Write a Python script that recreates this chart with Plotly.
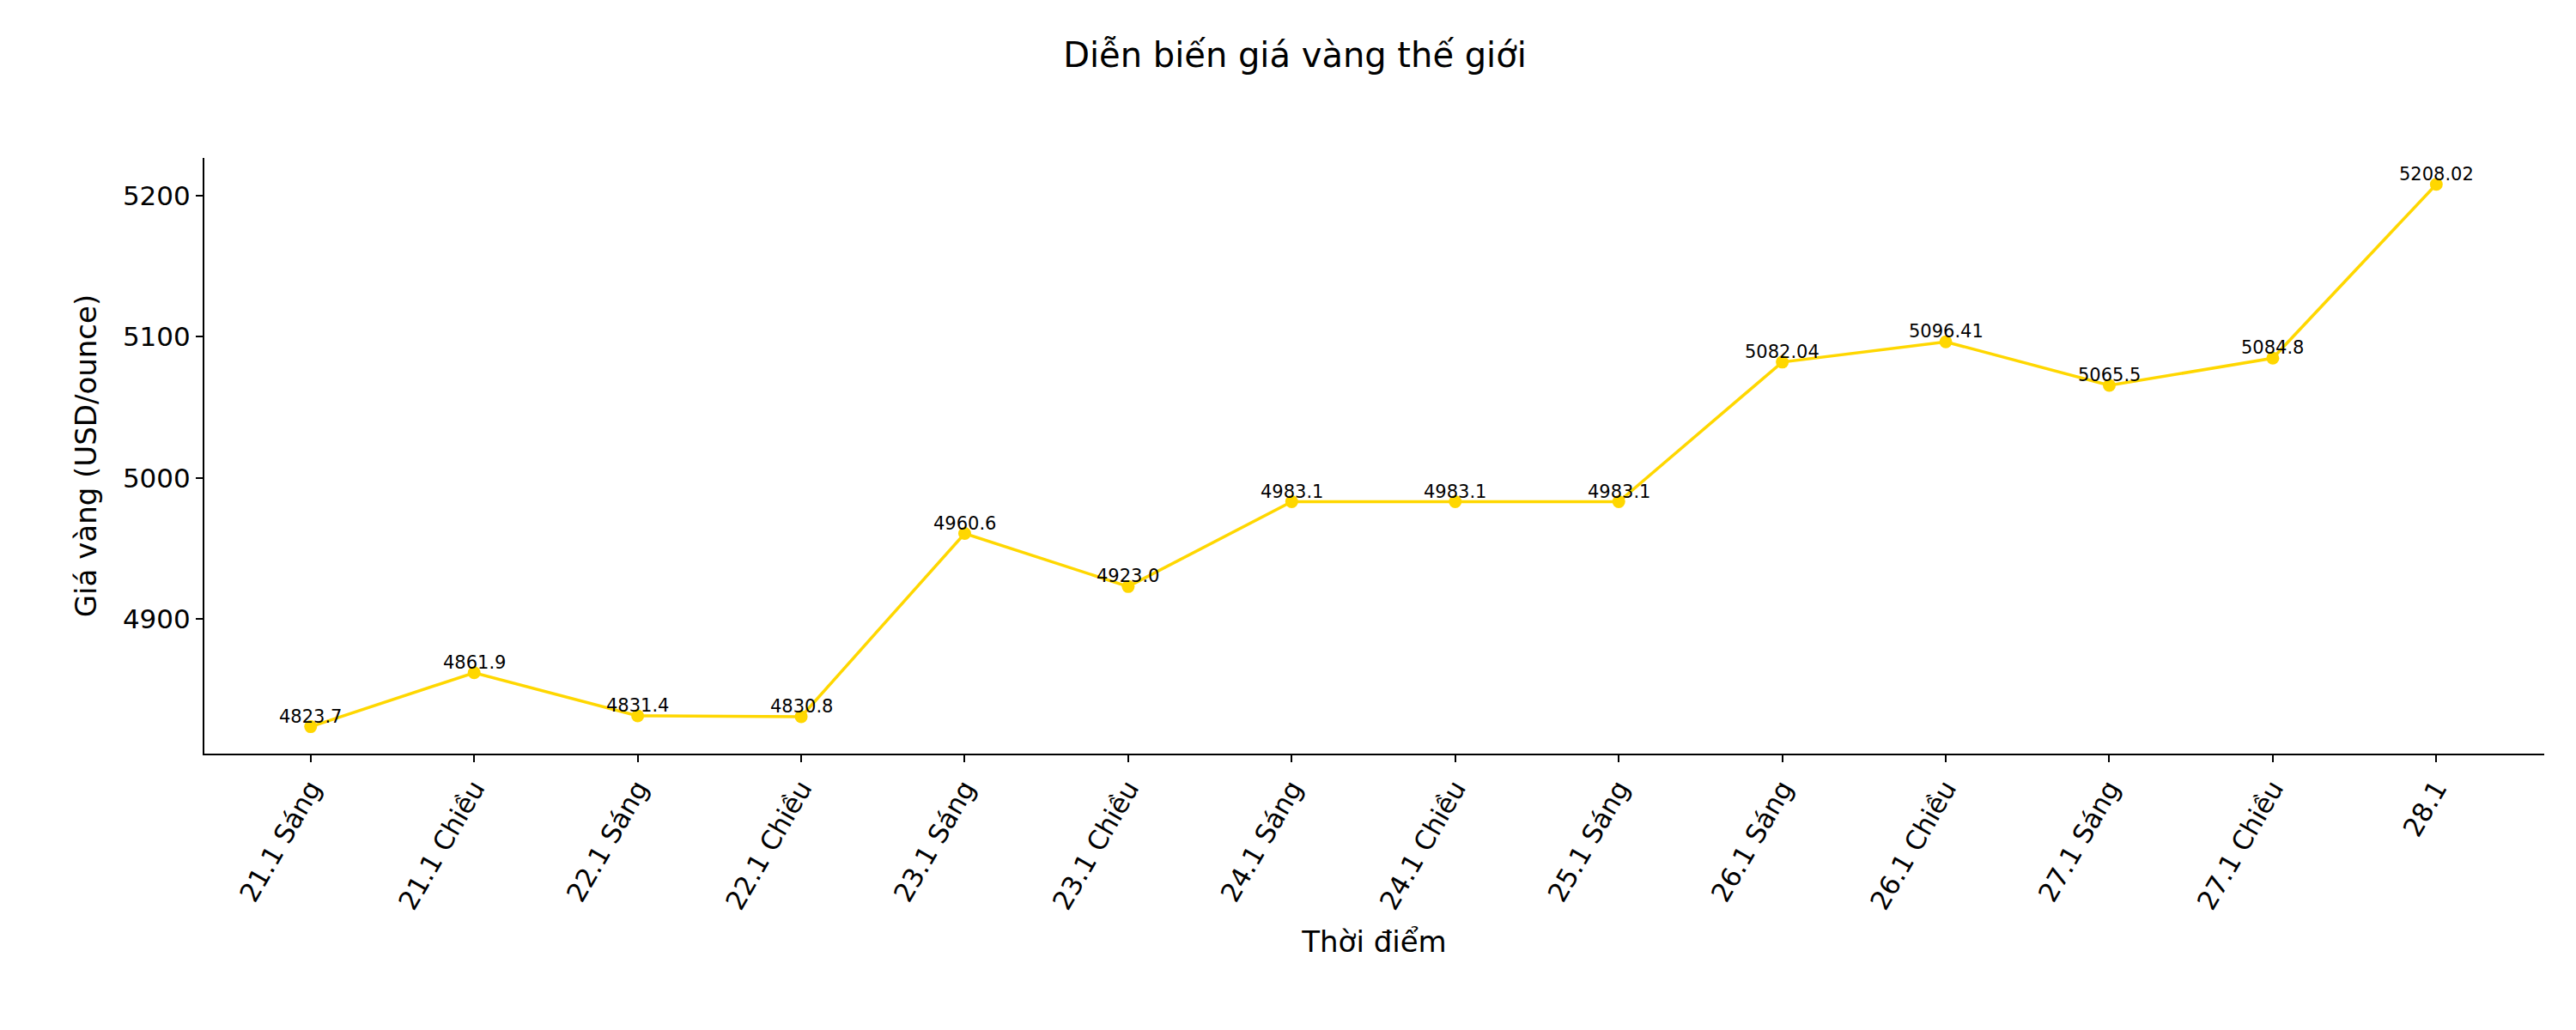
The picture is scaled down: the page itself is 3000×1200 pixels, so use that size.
import plotly.graph_objects as go

labels = ["21.1 Sáng","21.1 Chiều","22.1 Sáng","22.1 Chiều","23.1 Sáng","23.1 Chiều",
          "24.1 Sáng","24.1 Chiều","25.1 Sáng","26.1 Sáng","26.1 Chiều","27.1 Sáng","27.1 Chiều","28.1"]
prices = [4823.7,4861.9,4831.4,4830.8,4960.6,4923.0,4983.1,4983.1,4983.1,5082.04,5096.41,5065.5,5084.8,5208.02]
price_text = ["4823.7","4861.9","4831.4","4830.8","4960.6","4923.0","4983.1","4983.1","4983.1",
              "5082.04","5096.41","5065.5","5084.8","5208.02"]

x = list(range(len(labels)))
font = "DejaVu Sans"
fig = go.Figure(go.Scatter(
    x=x, y=prices, mode="lines+markers",
    line=dict(color="#FFD700", width=3.5),
    marker=dict(color="#FFD700", size=15),
))
for xi, yi, t in zip(x, prices, price_text):
    fig.add_annotation(x=xi, y=yi, text=t, showarrow=False, yanchor="bottom", yshift=-2,
                       font=dict(family=font, size=21, color="black"))
axis_common = dict(showline=True, linecolor="black", linewidth=2, ticks="outside",
                   ticklen=8, tickwidth=2, tickcolor="black", showgrid=False, zeroline=False,
                   tickfont=dict(family=font, size=31, color="black"))
fig.update_layout(
    width=3000, height=1200, plot_bgcolor="white", paper_bgcolor="white",
    margin=dict(l=230, r=45, t=176, b=330),
    title=dict(text="Diễn biến giá vàng thế giới", x=0.5, xanchor="center", y=0.965,
               font=dict(family=font, size=40, color="black")),
    showlegend=False,
    xaxis=dict(range=[-0.65, 13.66], tickmode="array", tickvals=x, ticktext=labels, tickangle=-60,
               title=dict(text="Thời điểm", font=dict(family=font, size=34, color="black"), standoff=20),
               **axis_common),
    yaxis=dict(range=[4804.6, 5226.7], tickvals=[4900, 5000, 5100, 5200],
               title=dict(text="Giá vàng (USD/ounce)", font=dict(family=font, size=34, color="black"), standoff=20),
               **axis_common),
)
fig.write_html("out.html")
